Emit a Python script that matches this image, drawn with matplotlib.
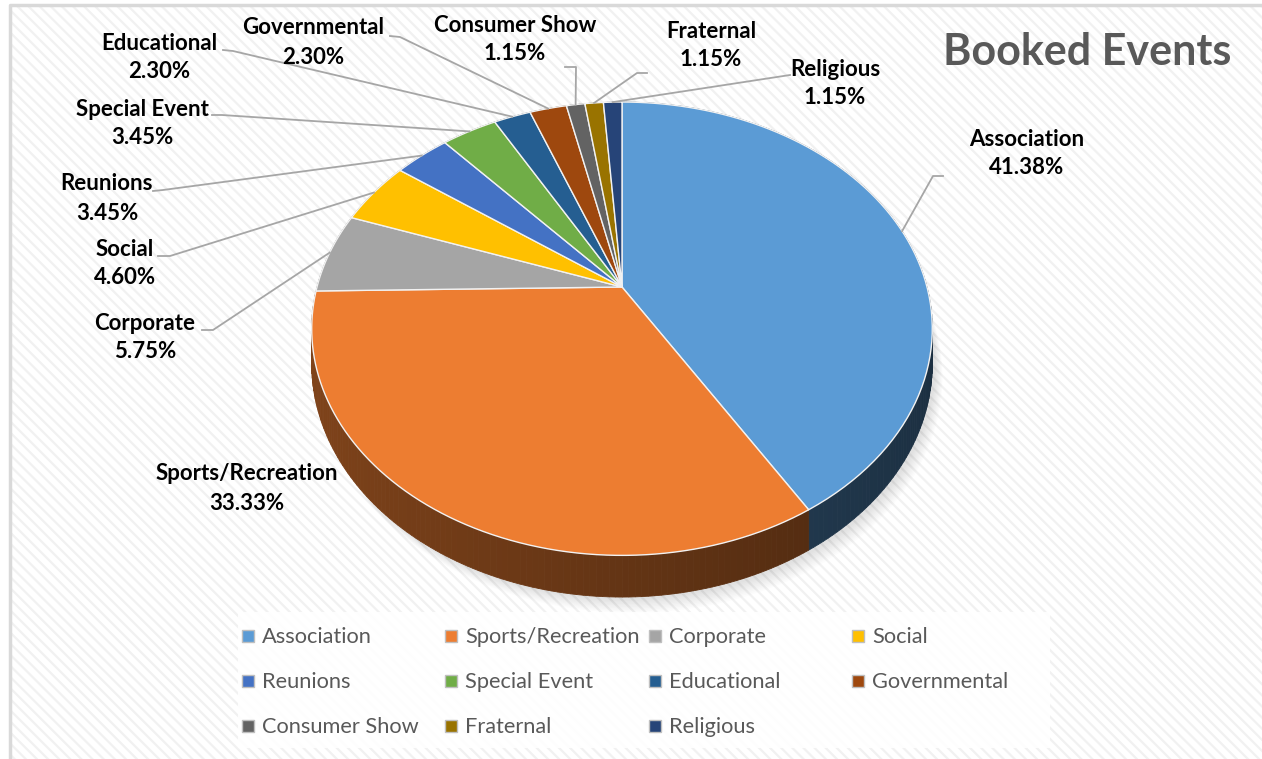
import numpy as np
import matplotlib.pyplot as plt
from matplotlib.patches import Rectangle, Polygon
from matplotlib.colors import to_rgb

plt.rcParams['font.family'] = ['Lato', 'DejaVu Sans']
plt.rcParams['hatch.linewidth'] = 1.6

# --- data ---
categories = ['Association', 'Sports/Recreation', 'Corporate', 'Social', 'Reunions',
              'Special Event', 'Educational', 'Governmental', 'Consumer Show',
              'Fraternal', 'Religious']
counts = [36, 29, 5, 4, 3, 3, 2, 2, 1, 1, 1]
colors = ['#5B9BD5', '#ED7D31', '#A5A5A5', '#FFC000', '#4472C4', '#70AD47',
          '#255E91', '#9E480E', '#636363', '#997300', '#264478']
title = 'Booked Events'

# label block positions (line 1 y) and leader start / stub points
label_x = [1027, 247, 145, 125, 107, 142, 159, 313, 515, 711, 835]
label_y = [139, 474, 323, 249, 184, 109, 43, 28, 25, 31, 69]
leader_start = [(943, 176), None, (202, 330), (158, 256), (153, 191), (212, 115),
                (223, 50), (390, 36), (565, 67), (647, 73), (790, 75)]
leader_stub = [(933, 176), None, (213, 330), (170, 256), (163, 190), (222, 115),
               (233, 51), (400, 37), (576, 67), (637, 73), None]

# --- pie geometry (pixel space, perspective tilt) ---
CX, CY = 622, 287
RX, RY = 305, 219
PERSP = 0.184
DEPTH = 34


def proj(theta, drop=0.0):
    t = np.radians(theta)
    k = 1.0 / (1.0 + PERSP * np.cos(t))
    return CX + RX * np.sin(t) * k, CY - RY * np.cos(t) * k + drop * k


fig = plt.figure(figsize=(12.62, 7.59), dpi=100)
ax = fig.add_axes([0, 0, 1, 1])
ax.set_xlim(0, 1262)
ax.set_ylim(759, 0)
ax.axis('off')

# striped background with thin frame
ax.add_patch(Rectangle((10, 5), 1252, 754, facecolor='white', edgecolor='#F1F1F1',
                       hatch='\\\\\\', linewidth=0, zorder=0))
ax.plot([10, 10, 1262], [759, 5, 5], color='#D9D9D9', lw=2.5, zorder=1)

# soft shadow
ang = np.linspace(0, 360, 361)
for i in range(10):
    sx, sy = proj(ang, DEPTH + 2 + i * 1.2)
    ax.fill(sx + 3 + i * 0.8, sy, color='#808080', alpha=0.025, lw=0, zorder=1)

total = sum(counts)
shares = [c / total for c in counts]
bounds = np.concatenate([[0], np.cumsum(shares)]) * 360

# side walls
step = 1.0
for i, col in enumerate(colors):
    base = np.array(to_rgb(col))
    for a in np.arange(bounds[i], bounds[i + 1], step):
        b = min(a + step, bounds[i + 1])
        x1, y1 = proj(a)
        x2, y2 = proj(b)
        x3, y3 = proj(b, DEPTH)
        x4, y4 = proj(a, DEPTH)
        shade = 0.42 - 0.12 * np.sin(np.radians((a + b) / 2))
        c = np.clip(base * shade, 0, 1)
        ax.add_patch(Polygon([(x1, y1), (x2, y2), (x3, y3), (x4, y4)], closed=True,
                             facecolor=c, edgecolor=c, lw=0.6, zorder=2))

# top faces
for i, col in enumerate(colors):
    arc = np.linspace(bounds[i], bounds[i + 1], 80)
    ax_, ay_ = proj(arc)
    pts = [(CX, CY)] + list(zip(ax_, ay_))
    ax.add_patch(Polygon(pts, closed=True, facecolor=col, edgecolor='#F2F2F2',
                         lw=1.0, zorder=3))

# leader lines and labels
for i, name in enumerate(categories):
    pct = '%.2f%%' % (shares[i] * 100)
    if leader_start[i] is not None:
        mid = (bounds[i] + bounds[i + 1]) / 2
        ex, ey = proj(mid)
        pts = [leader_start[i]]
        if leader_stub[i] is not None:
            pts.append(leader_stub[i])
        pts.append((ex, ey))
        ax.plot([p[0] for p in pts], [p[1] for p in pts], color='#A6A6A6', lw=1.3, zorder=4)
    ax.text(label_x[i], label_y[i], name, ha='center', va='center', fontsize=16,
            fontweight='bold', color='black', zorder=5)
    ax.text(label_x[i], label_y[i] + 29, pct, ha='center', va='center', fontsize=16,
            fontweight='bold', color='black', zorder=5)

# legend
ax.add_patch(Rectangle((238, 612), 812, 136, facecolor='white', edgecolor='none',
                       alpha=0.9, zorder=4))
for i, name in enumerate(categories):
    row, colm = divmod(i, 4)
    mx = 248 + colm * 203.3
    my = 636 + row * 45
    ax.add_patch(Rectangle((mx - 6, my - 6), 12, 12, facecolor=colors[i],
                           edgecolor='#BFBFBF', lw=1.0, zorder=5))
    ax.text(mx + 14, my + 1, name, ha='left', va='center', fontsize=15.7,
            color='#595959', zorder=5)

ax.text(1087, 52, title, ha='center', va='center', fontsize=31, fontweight='bold',
        color='#595959', zorder=5)

fig.savefig('out.png', dpi=100)
